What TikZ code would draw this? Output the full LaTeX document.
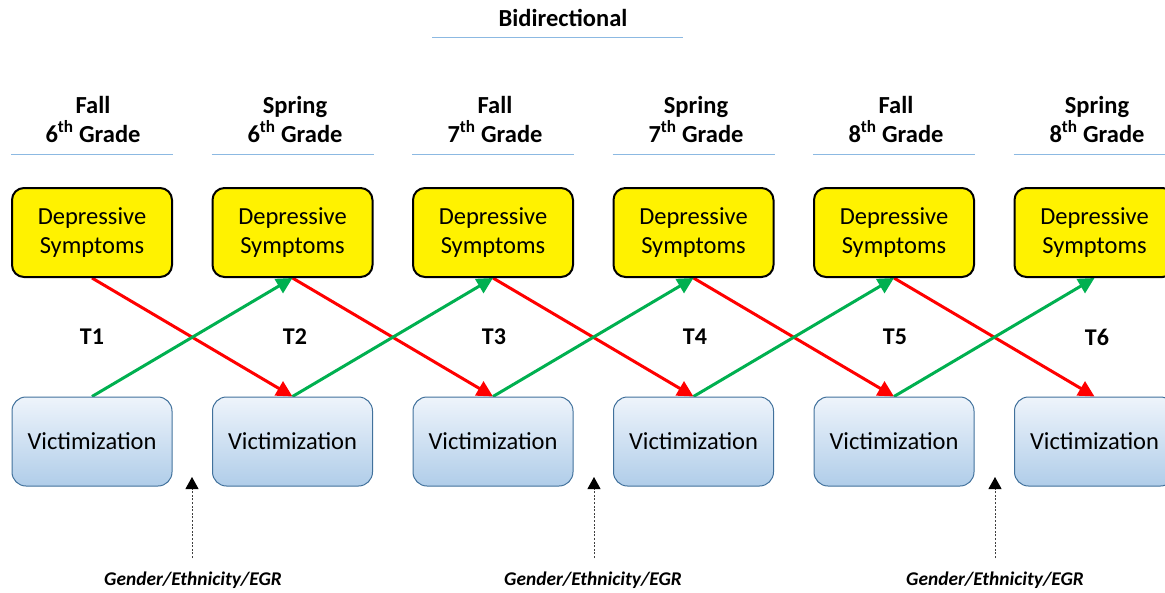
\documentclass[tikz,border=0pt]{standalone}
\usepackage{fontspec}
\setmainfont{Carlito}
\usetikzlibrary{arrows.meta,backgrounds}
\pgfdeclarelayer{edgelayer}
\pgfdeclarelayer{nodelayer}
\pgfsetlayers{edgelayer,nodelayer,main}
\definecolor{rulecol}{RGB}{91,155,213}
\definecolor{vicedge}{RGB}{65,113,156}
\definecolor{victop}{RGB}{238,244,251}
\definecolor{vicbot}{RGB}{176,205,233}
\definecolor{gopath}{RGB}{0,176,80}
\tikzset{font=\fontsize{24.5}{29}\selectfont}
\tikzstyle{none}=[inner sep=0pt]
\tikzstyle{depbox}=[draw=black,line width=2pt,fill=yellow,rounded corners=12pt,minimum width=160pt,minimum height=89pt,align=center]
\tikzstyle{vicbox}=[draw=vicedge,line width=1pt,top color=victop,bottom color=vicbot,rounded corners=14pt,minimum width=160pt,minimum height=89pt]
\tikzstyle{head}=[inner sep=0pt,align=center,font=\fontsize{24.5}{29}\selectfont\bfseries]
\tikzstyle{tlabel}=[inner sep=0pt,font=\fontsize{24}{28}\selectfont\bfseries]
\tikzstyle{covlabel}=[inner sep=0pt,font=\fontsize{19.4}{23}\selectfont\bfseries\itshape]
\tikzstyle{headrule}=[draw=rulecol!70,line width=1pt]
\tikzstyle{redpath}=[draw=red,line width=3pt,-{Triangle[length=16pt,width=16pt]}]
\tikzstyle{greenpath}=[draw=gopath,line width=3pt,-{Triangle[length=16pt,width=16pt]}]
\tikzstyle{covpath}=[draw=black!75,line width=1pt,dash pattern=on 2pt off 1.6pt,-{Triangle[length=12pt,width=13pt,color=black]}]
\newcommand{\grade}[2]{#1\\#2\textsuperscript{th} Grade}

\begin{document}
\begin{tikzpicture}[x=1pt,y=-1pt]
	\useasboundingbox (0,0) rectangle (1165,592);
	\begin{pgfonlayer}{nodelayer}
		% title
		\node [style=head] (title) at (563, 18) {Bidirectional};
		% headers
		\node [style=head] (h1) at (93, 119) {\grade{Fall}{6}};
		\node [style=head] (h2) at (295, 119) {\grade{Spring}{6}};
		\node [style=head] (h3) at (495, 119) {\grade{Fall}{7}};
		\node [style=head] (h4) at (696, 119) {\grade{Spring}{7}};
		\node [style=head] (h5) at (896, 119) {\grade{Fall}{8}};
		\node [style=head] (h6) at (1097, 119) {\grade{Spring}{8}};
		% depressive symptoms
		\node [style=depbox] (d1) at (92, 232.5) {Depressive\\Symptoms};
		\node [style=depbox] (d2) at (292.5, 232.5) {Depressive\\Symptoms};
		\node [style=depbox] (d3) at (493, 232.5) {Depressive\\Symptoms};
		\node [style=depbox] (d4) at (693.5, 232.5) {Depressive\\Symptoms};
		\node [style=depbox] (d5) at (894, 232.5) {Depressive\\Symptoms};
		\node [style=depbox] (d6) at (1094.5, 232.5) {Depressive\\Symptoms};
		% waves
		\node [style=tlabel] (t1) at (92, 337) {T1};
		\node [style=tlabel] (t2) at (295, 337) {T2};
		\node [style=tlabel] (t3) at (494, 337) {T3};
		\node [style=tlabel] (t4) at (695, 337) {T4};
		\node [style=tlabel] (t5) at (895, 337) {T5};
		\node [style=tlabel] (t6) at (1097, 337) {T6};
		% victimization
		\node [style=vicbox] (v1) at (92, 441.5) {Victimization};
		\node [style=vicbox] (v2) at (292.5, 441.5) {Victimization};
		\node [style=vicbox] (v3) at (493, 441.5) {Victimization};
		\node [style=vicbox] (v4) at (693.5, 441.5) {Victimization};
		\node [style=vicbox] (v5) at (894, 441.5) {Victimization};
		\node [style=vicbox] (v6) at (1094.5, 441.5) {Victimization};
		% covariates
		\node [style=covlabel] (c1) at (193, 580) {Gender/Ethnicity/EGR};
		\node [style=covlabel] (c2) at (593, 580) {Gender/Ethnicity/EGR};
		\node [style=covlabel] (c3) at (995, 580) {Gender/Ethnicity/EGR};
		\coordinate (c1a) at (192, 558);
		\coordinate (c1b) at (192, 477);
		\coordinate (c2a) at (594, 558);
		\coordinate (c2b) at (594, 477);
		\coordinate (c3a) at (995, 558);
		\coordinate (c3b) at (995, 477);
	\end{pgfonlayer}
	\begin{pgfonlayer}{edgelayer}
		\draw [style=headrule] (432, 37) to (683, 37);
		\draw [style=headrule] (d1.west |- 0,154) to (d1.east |- 0,154);
		\draw [style=headrule] (d2.west |- 0,154) to (d2.east |- 0,154);
		\draw [style=headrule] (d3.west |- 0,154) to (d3.east |- 0,154);
		\draw [style=headrule] (d4.west |- 0,154) to (d4.east |- 0,154);
		\draw [style=headrule] (d5.west |- 0,154) to (d5.east |- 0,154);
		\draw [style=headrule] (d6.west |- 0,154) to (d6.east |- 0,154);
		\draw [style=redpath] (d1.south) to (v2.north);
		\draw [style=redpath] (d2.south) to (v3.north);
		\draw [style=redpath] (d3.south) to (v4.north);
		\draw [style=redpath] (d4.south) to (v5.north);
		\draw [style=redpath] (d5.south) to (v6.north);
		\draw [style=greenpath] (v1.north) to (d2.south);
		\draw [style=greenpath] (v2.north) to (d3.south);
		\draw [style=greenpath] (v3.north) to (d4.south);
		\draw [style=greenpath] (v4.north) to (d5.south);
		\draw [style=greenpath] (v5.north) to (d6.south);
		\draw [style=covpath] (c1a) to (c1b);
		\draw [style=covpath] (c2a) to (c2b);
		\draw [style=covpath] (c3a) to (c3b);
	\end{pgfonlayer}
\end{tikzpicture}
\end{document}
